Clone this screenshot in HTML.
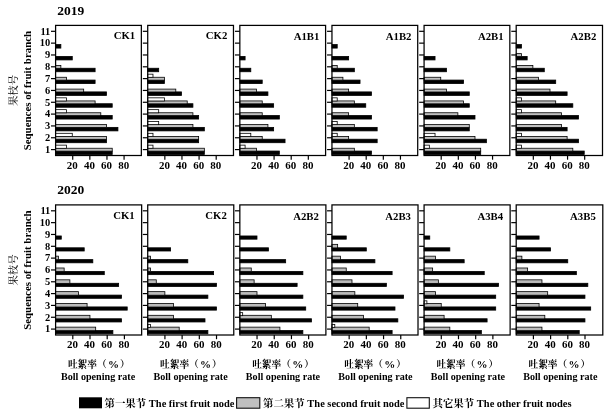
<!DOCTYPE html>
<html lang="zh"><head><meta charset="utf-8"><title>Boll opening rate</title>
<style>html,body{margin:0;padding:0;background:#fff}body{width:606px;height:412px;overflow:hidden}svg{display:block}</style>
</head><body>
<svg width="606" height="412" viewBox="0 0 606 412" font-family="'Liberation Serif','Noto Serif CJK SC',serif" font-weight="bold" fill="#000">
<defs><filter id="soft" x="0" y="0" width="606" height="412" filterUnits="userSpaceOnUse" color-interpolation-filters="sRGB"><feGaussianBlur stdDeviation="0.4"/></filter></defs>
<rect width="606" height="412" fill="#fff"/>
<g filter="url(#soft)">
<rect width="606" height="412" fill="#fff"/>
<rect x="55.60" y="151.04" width="56.62" height="3.50" fill="#000" stroke="#000" stroke-width="0.8"/>
<rect x="55.60" y="148.24" width="56.62" height="2.90" fill="#c0c0c0" stroke="#000" stroke-width="0.8"/>
<rect x="55.60" y="145.14" width="10.96" height="3.15" fill="#fff" stroke="#000" stroke-width="0.8"/>
<rect x="55.60" y="139.21" width="50.91" height="3.50" fill="#000" stroke="#000" stroke-width="0.8"/>
<rect x="55.60" y="136.41" width="50.91" height="2.90" fill="#c0c0c0" stroke="#000" stroke-width="0.8"/>
<rect x="55.60" y="133.31" width="16.67" height="3.15" fill="#fff" stroke="#000" stroke-width="0.8"/>
<rect x="55.60" y="127.38" width="62.32" height="3.50" fill="#000" stroke="#000" stroke-width="0.8"/>
<rect x="55.60" y="124.58" width="50.91" height="2.90" fill="#c0c0c0" stroke="#000" stroke-width="0.8"/>
<rect x="55.60" y="115.55" width="56.62" height="3.50" fill="#000" stroke="#000" stroke-width="0.8"/>
<rect x="55.60" y="112.75" width="45.20" height="2.90" fill="#c0c0c0" stroke="#000" stroke-width="0.8"/>
<rect x="55.60" y="109.65" width="10.96" height="3.15" fill="#fff" stroke="#000" stroke-width="0.8"/>
<rect x="55.60" y="103.73" width="56.62" height="3.50" fill="#000" stroke="#000" stroke-width="0.8"/>
<rect x="55.60" y="100.93" width="39.50" height="2.90" fill="#c0c0c0" stroke="#000" stroke-width="0.8"/>
<rect x="55.60" y="97.83" width="10.96" height="3.15" fill="#fff" stroke="#000" stroke-width="0.8"/>
<rect x="55.60" y="91.90" width="50.91" height="3.50" fill="#000" stroke="#000" stroke-width="0.8"/>
<rect x="55.60" y="89.10" width="28.08" height="2.90" fill="#c0c0c0" stroke="#000" stroke-width="0.8"/>
<rect x="55.60" y="80.07" width="39.50" height="3.50" fill="#000" stroke="#000" stroke-width="0.8"/>
<rect x="55.60" y="77.27" width="10.96" height="2.90" fill="#c0c0c0" stroke="#000" stroke-width="0.8"/>
<rect x="55.60" y="68.25" width="39.50" height="3.50" fill="#000" stroke="#000" stroke-width="0.8"/>
<rect x="55.60" y="65.45" width="5.26" height="2.90" fill="#c0c0c0" stroke="#000" stroke-width="0.8"/>
<rect x="55.60" y="56.42" width="16.67" height="3.50" fill="#000" stroke="#000" stroke-width="0.8"/>
<rect x="55.60" y="44.59" width="5.26" height="3.50" fill="#000" stroke="#000" stroke-width="0.8"/>
<rect x="55.60" y="25.40" width="85.75" height="130.10" fill="none" stroke="#000" stroke-width="1.25"/>
<line x1="51.00" y1="149.59" x2="55.60" y2="149.59" stroke="#000" stroke-width="1.2"/>
<text transform="translate(50.30,152.89) scale(1.08,1)" font-size="9.7" text-anchor="end">1</text>
<line x1="51.00" y1="137.76" x2="55.60" y2="137.76" stroke="#000" stroke-width="1.2"/>
<text transform="translate(50.30,141.06) scale(1.08,1)" font-size="9.7" text-anchor="end">2</text>
<line x1="51.00" y1="125.93" x2="55.60" y2="125.93" stroke="#000" stroke-width="1.2"/>
<text transform="translate(50.30,129.23) scale(1.08,1)" font-size="9.7" text-anchor="end">3</text>
<line x1="51.00" y1="114.10" x2="55.60" y2="114.10" stroke="#000" stroke-width="1.2"/>
<text transform="translate(50.30,117.40) scale(1.08,1)" font-size="9.7" text-anchor="end">4</text>
<line x1="51.00" y1="102.28" x2="55.60" y2="102.28" stroke="#000" stroke-width="1.2"/>
<text transform="translate(50.30,105.58) scale(1.08,1)" font-size="9.7" text-anchor="end">5</text>
<line x1="51.00" y1="90.45" x2="55.60" y2="90.45" stroke="#000" stroke-width="1.2"/>
<text transform="translate(50.30,93.75) scale(1.08,1)" font-size="9.7" text-anchor="end">6</text>
<line x1="51.00" y1="78.62" x2="55.60" y2="78.62" stroke="#000" stroke-width="1.2"/>
<text transform="translate(50.30,81.92) scale(1.08,1)" font-size="9.7" text-anchor="end">7</text>
<line x1="51.00" y1="66.80" x2="55.60" y2="66.80" stroke="#000" stroke-width="1.2"/>
<text transform="translate(50.30,70.10) scale(1.08,1)" font-size="9.7" text-anchor="end">8</text>
<line x1="51.00" y1="54.97" x2="55.60" y2="54.97" stroke="#000" stroke-width="1.2"/>
<text transform="translate(50.30,58.27) scale(1.08,1)" font-size="9.7" text-anchor="end">9</text>
<line x1="51.00" y1="43.14" x2="55.60" y2="43.14" stroke="#000" stroke-width="1.2"/>
<text transform="translate(50.30,46.44) scale(1.08,1)" font-size="9.7" text-anchor="end">10</text>
<line x1="51.00" y1="31.31" x2="55.60" y2="31.31" stroke="#000" stroke-width="1.2"/>
<text transform="translate(50.30,34.61) scale(1.08,1)" font-size="9.7" text-anchor="end">11</text>
<line x1="72.72" y1="155.50" x2="72.72" y2="159.70" stroke="#000" stroke-width="1.2"/>
<text transform="translate(72.32,168.55) scale(1.1,0.95)" font-size="10" text-anchor="middle">20</text>
<line x1="89.84" y1="155.50" x2="89.84" y2="159.70" stroke="#000" stroke-width="1.2"/>
<text transform="translate(89.44,168.55) scale(1.1,0.95)" font-size="10" text-anchor="middle">40</text>
<line x1="106.96" y1="155.50" x2="106.96" y2="159.70" stroke="#000" stroke-width="1.2"/>
<text transform="translate(106.56,168.55) scale(1.1,0.95)" font-size="10" text-anchor="middle">60</text>
<line x1="124.08" y1="155.50" x2="124.08" y2="159.70" stroke="#000" stroke-width="1.2"/>
<text transform="translate(123.68,168.55) scale(1.1,0.95)" font-size="10" text-anchor="middle">80</text>
<text x="135.15" y="38.90" font-size="10.75" text-anchor="end">CK1</text>
<rect x="147.72" y="151.04" width="56.62" height="3.50" fill="#000" stroke="#000" stroke-width="0.8"/>
<rect x="147.72" y="148.24" width="56.62" height="2.90" fill="#c0c0c0" stroke="#000" stroke-width="0.8"/>
<rect x="147.72" y="145.14" width="5.26" height="3.15" fill="#fff" stroke="#000" stroke-width="0.8"/>
<rect x="147.72" y="139.21" width="50.91" height="3.50" fill="#000" stroke="#000" stroke-width="0.8"/>
<rect x="147.72" y="136.41" width="50.91" height="2.90" fill="#c0c0c0" stroke="#000" stroke-width="0.8"/>
<rect x="147.72" y="133.31" width="5.26" height="3.15" fill="#fff" stroke="#000" stroke-width="0.8"/>
<rect x="147.72" y="127.38" width="56.62" height="3.50" fill="#000" stroke="#000" stroke-width="0.8"/>
<rect x="147.72" y="124.58" width="45.20" height="2.90" fill="#c0c0c0" stroke="#000" stroke-width="0.8"/>
<rect x="147.72" y="121.48" width="10.96" height="3.15" fill="#fff" stroke="#000" stroke-width="0.8"/>
<rect x="147.72" y="115.55" width="50.91" height="3.50" fill="#000" stroke="#000" stroke-width="0.8"/>
<rect x="147.72" y="112.75" width="45.20" height="2.90" fill="#c0c0c0" stroke="#000" stroke-width="0.8"/>
<rect x="147.72" y="109.65" width="10.96" height="3.15" fill="#fff" stroke="#000" stroke-width="0.8"/>
<rect x="147.72" y="103.73" width="45.20" height="3.50" fill="#000" stroke="#000" stroke-width="0.8"/>
<rect x="147.72" y="100.93" width="39.50" height="2.90" fill="#c0c0c0" stroke="#000" stroke-width="0.8"/>
<rect x="147.72" y="97.83" width="16.67" height="3.15" fill="#fff" stroke="#000" stroke-width="0.8"/>
<rect x="147.72" y="91.90" width="33.79" height="3.50" fill="#000" stroke="#000" stroke-width="0.8"/>
<rect x="147.72" y="89.10" width="28.08" height="2.90" fill="#c0c0c0" stroke="#000" stroke-width="0.8"/>
<rect x="147.72" y="80.07" width="16.67" height="3.50" fill="#000" stroke="#000" stroke-width="0.8"/>
<rect x="147.72" y="77.27" width="16.67" height="2.90" fill="#c0c0c0" stroke="#000" stroke-width="0.8"/>
<rect x="147.72" y="74.17" width="5.26" height="3.15" fill="#fff" stroke="#000" stroke-width="0.8"/>
<rect x="147.72" y="68.25" width="10.96" height="3.50" fill="#000" stroke="#000" stroke-width="0.8"/>
<rect x="147.72" y="25.40" width="85.75" height="130.10" fill="none" stroke="#000" stroke-width="1.25"/>
<line x1="142.82" y1="149.59" x2="147.72" y2="149.59" stroke="#000" stroke-width="1.2"/>
<line x1="142.82" y1="137.76" x2="147.72" y2="137.76" stroke="#000" stroke-width="1.2"/>
<line x1="142.82" y1="125.93" x2="147.72" y2="125.93" stroke="#000" stroke-width="1.2"/>
<line x1="142.82" y1="114.10" x2="147.72" y2="114.10" stroke="#000" stroke-width="1.2"/>
<line x1="142.82" y1="102.28" x2="147.72" y2="102.28" stroke="#000" stroke-width="1.2"/>
<line x1="142.82" y1="90.45" x2="147.72" y2="90.45" stroke="#000" stroke-width="1.2"/>
<line x1="142.82" y1="78.62" x2="147.72" y2="78.62" stroke="#000" stroke-width="1.2"/>
<line x1="142.82" y1="66.80" x2="147.72" y2="66.80" stroke="#000" stroke-width="1.2"/>
<line x1="142.82" y1="54.97" x2="147.72" y2="54.97" stroke="#000" stroke-width="1.2"/>
<line x1="142.82" y1="43.14" x2="147.72" y2="43.14" stroke="#000" stroke-width="1.2"/>
<line x1="142.82" y1="31.31" x2="147.72" y2="31.31" stroke="#000" stroke-width="1.2"/>
<line x1="164.84" y1="155.50" x2="164.84" y2="159.70" stroke="#000" stroke-width="1.2"/>
<text transform="translate(164.44,168.55) scale(1.1,0.95)" font-size="10" text-anchor="middle">20</text>
<line x1="181.96" y1="155.50" x2="181.96" y2="159.70" stroke="#000" stroke-width="1.2"/>
<text transform="translate(181.56,168.55) scale(1.1,0.95)" font-size="10" text-anchor="middle">40</text>
<line x1="199.08" y1="155.50" x2="199.08" y2="159.70" stroke="#000" stroke-width="1.2"/>
<text transform="translate(198.68,168.55) scale(1.1,0.95)" font-size="10" text-anchor="middle">60</text>
<line x1="216.20" y1="155.50" x2="216.20" y2="159.70" stroke="#000" stroke-width="1.2"/>
<text transform="translate(215.80,168.55) scale(1.1,0.95)" font-size="10" text-anchor="middle">80</text>
<text x="227.27" y="38.90" font-size="10.75" text-anchor="end">CK2</text>
<rect x="239.84" y="151.04" width="39.50" height="3.50" fill="#000" stroke="#000" stroke-width="0.8"/>
<rect x="239.84" y="148.24" width="16.67" height="2.90" fill="#c0c0c0" stroke="#000" stroke-width="0.8"/>
<rect x="239.84" y="145.14" width="5.26" height="3.15" fill="#fff" stroke="#000" stroke-width="0.8"/>
<rect x="239.84" y="139.21" width="45.20" height="3.50" fill="#000" stroke="#000" stroke-width="0.8"/>
<rect x="239.84" y="136.41" width="22.38" height="2.90" fill="#c0c0c0" stroke="#000" stroke-width="0.8"/>
<rect x="239.84" y="133.31" width="10.96" height="3.15" fill="#fff" stroke="#000" stroke-width="0.8"/>
<rect x="239.84" y="127.38" width="33.79" height="3.50" fill="#000" stroke="#000" stroke-width="0.8"/>
<rect x="239.84" y="124.58" width="28.08" height="2.90" fill="#c0c0c0" stroke="#000" stroke-width="0.8"/>
<rect x="239.84" y="115.55" width="39.50" height="3.50" fill="#000" stroke="#000" stroke-width="0.8"/>
<rect x="239.84" y="112.75" width="22.38" height="2.90" fill="#c0c0c0" stroke="#000" stroke-width="0.8"/>
<rect x="239.84" y="103.73" width="33.79" height="3.50" fill="#000" stroke="#000" stroke-width="0.8"/>
<rect x="239.84" y="100.93" width="22.38" height="2.90" fill="#c0c0c0" stroke="#000" stroke-width="0.8"/>
<rect x="239.84" y="91.90" width="28.08" height="3.50" fill="#000" stroke="#000" stroke-width="0.8"/>
<rect x="239.84" y="89.10" width="16.67" height="2.90" fill="#c0c0c0" stroke="#000" stroke-width="0.8"/>
<rect x="239.84" y="80.07" width="22.38" height="3.50" fill="#000" stroke="#000" stroke-width="0.8"/>
<rect x="239.84" y="68.25" width="10.96" height="3.50" fill="#000" stroke="#000" stroke-width="0.8"/>
<rect x="239.84" y="56.42" width="5.26" height="3.50" fill="#000" stroke="#000" stroke-width="0.8"/>
<rect x="239.84" y="25.40" width="85.75" height="130.10" fill="none" stroke="#000" stroke-width="1.25"/>
<line x1="234.94" y1="149.59" x2="239.84" y2="149.59" stroke="#000" stroke-width="1.2"/>
<line x1="234.94" y1="137.76" x2="239.84" y2="137.76" stroke="#000" stroke-width="1.2"/>
<line x1="234.94" y1="125.93" x2="239.84" y2="125.93" stroke="#000" stroke-width="1.2"/>
<line x1="234.94" y1="114.10" x2="239.84" y2="114.10" stroke="#000" stroke-width="1.2"/>
<line x1="234.94" y1="102.28" x2="239.84" y2="102.28" stroke="#000" stroke-width="1.2"/>
<line x1="234.94" y1="90.45" x2="239.84" y2="90.45" stroke="#000" stroke-width="1.2"/>
<line x1="234.94" y1="78.62" x2="239.84" y2="78.62" stroke="#000" stroke-width="1.2"/>
<line x1="234.94" y1="66.80" x2="239.84" y2="66.80" stroke="#000" stroke-width="1.2"/>
<line x1="234.94" y1="54.97" x2="239.84" y2="54.97" stroke="#000" stroke-width="1.2"/>
<line x1="234.94" y1="43.14" x2="239.84" y2="43.14" stroke="#000" stroke-width="1.2"/>
<line x1="234.94" y1="31.31" x2="239.84" y2="31.31" stroke="#000" stroke-width="1.2"/>
<line x1="256.96" y1="155.50" x2="256.96" y2="159.70" stroke="#000" stroke-width="1.2"/>
<text transform="translate(256.56,168.55) scale(1.1,0.95)" font-size="10" text-anchor="middle">20</text>
<line x1="274.08" y1="155.50" x2="274.08" y2="159.70" stroke="#000" stroke-width="1.2"/>
<text transform="translate(273.68,168.55) scale(1.1,0.95)" font-size="10" text-anchor="middle">40</text>
<line x1="291.20" y1="155.50" x2="291.20" y2="159.70" stroke="#000" stroke-width="1.2"/>
<text transform="translate(290.80,168.55) scale(1.1,0.95)" font-size="10" text-anchor="middle">60</text>
<line x1="308.32" y1="155.50" x2="308.32" y2="159.70" stroke="#000" stroke-width="1.2"/>
<text transform="translate(307.92,168.55) scale(1.1,0.95)" font-size="10" text-anchor="middle">80</text>
<text x="319.39" y="39.85" font-size="10.75" text-anchor="end">A1B1</text>
<rect x="331.96" y="151.04" width="39.50" height="3.50" fill="#000" stroke="#000" stroke-width="0.8"/>
<rect x="331.96" y="148.24" width="22.38" height="2.90" fill="#c0c0c0" stroke="#000" stroke-width="0.8"/>
<rect x="331.96" y="139.21" width="45.20" height="3.50" fill="#000" stroke="#000" stroke-width="0.8"/>
<rect x="331.96" y="136.41" width="16.67" height="2.90" fill="#c0c0c0" stroke="#000" stroke-width="0.8"/>
<rect x="331.96" y="133.31" width="5.26" height="3.15" fill="#fff" stroke="#000" stroke-width="0.8"/>
<rect x="331.96" y="127.38" width="45.20" height="3.50" fill="#000" stroke="#000" stroke-width="0.8"/>
<rect x="331.96" y="124.58" width="22.38" height="2.90" fill="#c0c0c0" stroke="#000" stroke-width="0.8"/>
<rect x="331.96" y="121.48" width="5.26" height="3.15" fill="#fff" stroke="#000" stroke-width="0.8"/>
<rect x="331.96" y="115.55" width="39.50" height="3.50" fill="#000" stroke="#000" stroke-width="0.8"/>
<rect x="331.96" y="112.75" width="16.67" height="2.90" fill="#c0c0c0" stroke="#000" stroke-width="0.8"/>
<rect x="331.96" y="103.73" width="33.79" height="3.50" fill="#000" stroke="#000" stroke-width="0.8"/>
<rect x="331.96" y="100.93" width="22.38" height="2.90" fill="#c0c0c0" stroke="#000" stroke-width="0.8"/>
<rect x="331.96" y="97.83" width="5.26" height="3.15" fill="#fff" stroke="#000" stroke-width="0.8"/>
<rect x="331.96" y="91.90" width="39.50" height="3.50" fill="#000" stroke="#000" stroke-width="0.8"/>
<rect x="331.96" y="89.10" width="16.67" height="2.90" fill="#c0c0c0" stroke="#000" stroke-width="0.8"/>
<rect x="331.96" y="80.07" width="28.08" height="3.50" fill="#000" stroke="#000" stroke-width="0.8"/>
<rect x="331.96" y="77.27" width="10.96" height="2.90" fill="#c0c0c0" stroke="#000" stroke-width="0.8"/>
<rect x="331.96" y="68.25" width="22.38" height="3.50" fill="#000" stroke="#000" stroke-width="0.8"/>
<rect x="331.96" y="65.45" width="5.26" height="2.90" fill="#c0c0c0" stroke="#000" stroke-width="0.8"/>
<rect x="331.96" y="56.42" width="16.67" height="3.50" fill="#000" stroke="#000" stroke-width="0.8"/>
<rect x="331.96" y="44.59" width="5.26" height="3.50" fill="#000" stroke="#000" stroke-width="0.8"/>
<rect x="331.96" y="25.40" width="85.75" height="130.10" fill="none" stroke="#000" stroke-width="1.25"/>
<line x1="327.06" y1="149.59" x2="331.96" y2="149.59" stroke="#000" stroke-width="1.2"/>
<line x1="327.06" y1="137.76" x2="331.96" y2="137.76" stroke="#000" stroke-width="1.2"/>
<line x1="327.06" y1="125.93" x2="331.96" y2="125.93" stroke="#000" stroke-width="1.2"/>
<line x1="327.06" y1="114.10" x2="331.96" y2="114.10" stroke="#000" stroke-width="1.2"/>
<line x1="327.06" y1="102.28" x2="331.96" y2="102.28" stroke="#000" stroke-width="1.2"/>
<line x1="327.06" y1="90.45" x2="331.96" y2="90.45" stroke="#000" stroke-width="1.2"/>
<line x1="327.06" y1="78.62" x2="331.96" y2="78.62" stroke="#000" stroke-width="1.2"/>
<line x1="327.06" y1="66.80" x2="331.96" y2="66.80" stroke="#000" stroke-width="1.2"/>
<line x1="327.06" y1="54.97" x2="331.96" y2="54.97" stroke="#000" stroke-width="1.2"/>
<line x1="327.06" y1="43.14" x2="331.96" y2="43.14" stroke="#000" stroke-width="1.2"/>
<line x1="327.06" y1="31.31" x2="331.96" y2="31.31" stroke="#000" stroke-width="1.2"/>
<line x1="349.08" y1="155.50" x2="349.08" y2="159.70" stroke="#000" stroke-width="1.2"/>
<text transform="translate(348.68,168.55) scale(1.1,0.95)" font-size="10" text-anchor="middle">20</text>
<line x1="366.20" y1="155.50" x2="366.20" y2="159.70" stroke="#000" stroke-width="1.2"/>
<text transform="translate(365.80,168.55) scale(1.1,0.95)" font-size="10" text-anchor="middle">40</text>
<line x1="383.32" y1="155.50" x2="383.32" y2="159.70" stroke="#000" stroke-width="1.2"/>
<text transform="translate(382.92,168.55) scale(1.1,0.95)" font-size="10" text-anchor="middle">60</text>
<line x1="400.44" y1="155.50" x2="400.44" y2="159.70" stroke="#000" stroke-width="1.2"/>
<text transform="translate(400.04,168.55) scale(1.1,0.95)" font-size="10" text-anchor="middle">80</text>
<text x="411.51" y="39.85" font-size="10.75" text-anchor="end">A1B2</text>
<rect x="424.08" y="151.04" width="56.62" height="3.50" fill="#000" stroke="#000" stroke-width="0.8"/>
<rect x="424.08" y="148.24" width="56.62" height="2.90" fill="#c0c0c0" stroke="#000" stroke-width="0.8"/>
<rect x="424.08" y="145.14" width="5.26" height="3.15" fill="#fff" stroke="#000" stroke-width="0.8"/>
<rect x="424.08" y="139.21" width="62.32" height="3.50" fill="#000" stroke="#000" stroke-width="0.8"/>
<rect x="424.08" y="136.41" width="50.91" height="2.90" fill="#c0c0c0" stroke="#000" stroke-width="0.8"/>
<rect x="424.08" y="133.31" width="10.96" height="3.15" fill="#fff" stroke="#000" stroke-width="0.8"/>
<rect x="424.08" y="127.38" width="45.20" height="3.50" fill="#000" stroke="#000" stroke-width="0.8"/>
<rect x="424.08" y="124.58" width="45.20" height="2.90" fill="#c0c0c0" stroke="#000" stroke-width="0.8"/>
<rect x="424.08" y="115.55" width="50.91" height="3.50" fill="#000" stroke="#000" stroke-width="0.8"/>
<rect x="424.08" y="112.75" width="33.79" height="2.90" fill="#c0c0c0" stroke="#000" stroke-width="0.8"/>
<rect x="424.08" y="103.73" width="45.20" height="3.50" fill="#000" stroke="#000" stroke-width="0.8"/>
<rect x="424.08" y="100.93" width="39.50" height="2.90" fill="#c0c0c0" stroke="#000" stroke-width="0.8"/>
<rect x="424.08" y="91.90" width="45.20" height="3.50" fill="#000" stroke="#000" stroke-width="0.8"/>
<rect x="424.08" y="89.10" width="22.38" height="2.90" fill="#c0c0c0" stroke="#000" stroke-width="0.8"/>
<rect x="424.08" y="80.07" width="39.50" height="3.50" fill="#000" stroke="#000" stroke-width="0.8"/>
<rect x="424.08" y="77.27" width="16.67" height="2.90" fill="#c0c0c0" stroke="#000" stroke-width="0.8"/>
<rect x="424.08" y="68.25" width="22.38" height="3.50" fill="#000" stroke="#000" stroke-width="0.8"/>
<rect x="424.08" y="56.42" width="10.96" height="3.50" fill="#000" stroke="#000" stroke-width="0.8"/>
<rect x="424.08" y="25.40" width="85.75" height="130.10" fill="none" stroke="#000" stroke-width="1.25"/>
<line x1="419.18" y1="149.59" x2="424.08" y2="149.59" stroke="#000" stroke-width="1.2"/>
<line x1="419.18" y1="137.76" x2="424.08" y2="137.76" stroke="#000" stroke-width="1.2"/>
<line x1="419.18" y1="125.93" x2="424.08" y2="125.93" stroke="#000" stroke-width="1.2"/>
<line x1="419.18" y1="114.10" x2="424.08" y2="114.10" stroke="#000" stroke-width="1.2"/>
<line x1="419.18" y1="102.28" x2="424.08" y2="102.28" stroke="#000" stroke-width="1.2"/>
<line x1="419.18" y1="90.45" x2="424.08" y2="90.45" stroke="#000" stroke-width="1.2"/>
<line x1="419.18" y1="78.62" x2="424.08" y2="78.62" stroke="#000" stroke-width="1.2"/>
<line x1="419.18" y1="66.80" x2="424.08" y2="66.80" stroke="#000" stroke-width="1.2"/>
<line x1="419.18" y1="54.97" x2="424.08" y2="54.97" stroke="#000" stroke-width="1.2"/>
<line x1="419.18" y1="43.14" x2="424.08" y2="43.14" stroke="#000" stroke-width="1.2"/>
<line x1="419.18" y1="31.31" x2="424.08" y2="31.31" stroke="#000" stroke-width="1.2"/>
<line x1="441.20" y1="155.50" x2="441.20" y2="159.70" stroke="#000" stroke-width="1.2"/>
<text transform="translate(440.80,168.55) scale(1.1,0.95)" font-size="10" text-anchor="middle">20</text>
<line x1="458.32" y1="155.50" x2="458.32" y2="159.70" stroke="#000" stroke-width="1.2"/>
<text transform="translate(457.92,168.55) scale(1.1,0.95)" font-size="10" text-anchor="middle">40</text>
<line x1="475.44" y1="155.50" x2="475.44" y2="159.70" stroke="#000" stroke-width="1.2"/>
<text transform="translate(475.04,168.55) scale(1.1,0.95)" font-size="10" text-anchor="middle">60</text>
<line x1="492.56" y1="155.50" x2="492.56" y2="159.70" stroke="#000" stroke-width="1.2"/>
<text transform="translate(492.16,168.55) scale(1.1,0.95)" font-size="10" text-anchor="middle">80</text>
<text x="503.63" y="39.85" font-size="10.75" text-anchor="end">A2B1</text>
<rect x="516.20" y="151.04" width="68.03" height="3.50" fill="#000" stroke="#000" stroke-width="0.8"/>
<rect x="516.20" y="148.24" width="56.62" height="2.90" fill="#c0c0c0" stroke="#000" stroke-width="0.8"/>
<rect x="516.20" y="145.14" width="5.26" height="3.15" fill="#fff" stroke="#000" stroke-width="0.8"/>
<rect x="516.20" y="139.21" width="62.32" height="3.50" fill="#000" stroke="#000" stroke-width="0.8"/>
<rect x="516.20" y="136.41" width="50.91" height="2.90" fill="#c0c0c0" stroke="#000" stroke-width="0.8"/>
<rect x="516.20" y="133.31" width="5.26" height="3.15" fill="#fff" stroke="#000" stroke-width="0.8"/>
<rect x="516.20" y="127.38" width="50.91" height="3.50" fill="#000" stroke="#000" stroke-width="0.8"/>
<rect x="516.20" y="124.58" width="45.20" height="2.90" fill="#c0c0c0" stroke="#000" stroke-width="0.8"/>
<rect x="516.20" y="115.55" width="62.32" height="3.50" fill="#000" stroke="#000" stroke-width="0.8"/>
<rect x="516.20" y="112.75" width="45.20" height="2.90" fill="#c0c0c0" stroke="#000" stroke-width="0.8"/>
<rect x="516.20" y="109.65" width="5.26" height="3.15" fill="#fff" stroke="#000" stroke-width="0.8"/>
<rect x="516.20" y="103.73" width="56.62" height="3.50" fill="#000" stroke="#000" stroke-width="0.8"/>
<rect x="516.20" y="100.93" width="39.50" height="2.90" fill="#c0c0c0" stroke="#000" stroke-width="0.8"/>
<rect x="516.20" y="97.83" width="5.26" height="3.15" fill="#fff" stroke="#000" stroke-width="0.8"/>
<rect x="516.20" y="91.90" width="50.91" height="3.50" fill="#000" stroke="#000" stroke-width="0.8"/>
<rect x="516.20" y="89.10" width="33.79" height="2.90" fill="#c0c0c0" stroke="#000" stroke-width="0.8"/>
<rect x="516.20" y="80.07" width="39.50" height="3.50" fill="#000" stroke="#000" stroke-width="0.8"/>
<rect x="516.20" y="77.27" width="22.38" height="2.90" fill="#c0c0c0" stroke="#000" stroke-width="0.8"/>
<rect x="516.20" y="68.25" width="28.08" height="3.50" fill="#000" stroke="#000" stroke-width="0.8"/>
<rect x="516.20" y="65.45" width="16.67" height="2.90" fill="#c0c0c0" stroke="#000" stroke-width="0.8"/>
<rect x="516.20" y="56.42" width="10.96" height="3.50" fill="#000" stroke="#000" stroke-width="0.8"/>
<rect x="516.20" y="53.62" width="5.26" height="2.90" fill="#c0c0c0" stroke="#000" stroke-width="0.8"/>
<rect x="516.20" y="44.59" width="5.26" height="3.50" fill="#000" stroke="#000" stroke-width="0.8"/>
<rect x="516.20" y="25.40" width="86.30" height="130.10" fill="none" stroke="#000" stroke-width="1.25"/>
<line x1="511.30" y1="149.59" x2="516.20" y2="149.59" stroke="#000" stroke-width="1.2"/>
<line x1="511.30" y1="137.76" x2="516.20" y2="137.76" stroke="#000" stroke-width="1.2"/>
<line x1="511.30" y1="125.93" x2="516.20" y2="125.93" stroke="#000" stroke-width="1.2"/>
<line x1="511.30" y1="114.10" x2="516.20" y2="114.10" stroke="#000" stroke-width="1.2"/>
<line x1="511.30" y1="102.28" x2="516.20" y2="102.28" stroke="#000" stroke-width="1.2"/>
<line x1="511.30" y1="90.45" x2="516.20" y2="90.45" stroke="#000" stroke-width="1.2"/>
<line x1="511.30" y1="78.62" x2="516.20" y2="78.62" stroke="#000" stroke-width="1.2"/>
<line x1="511.30" y1="66.80" x2="516.20" y2="66.80" stroke="#000" stroke-width="1.2"/>
<line x1="511.30" y1="54.97" x2="516.20" y2="54.97" stroke="#000" stroke-width="1.2"/>
<line x1="511.30" y1="43.14" x2="516.20" y2="43.14" stroke="#000" stroke-width="1.2"/>
<line x1="511.30" y1="31.31" x2="516.20" y2="31.31" stroke="#000" stroke-width="1.2"/>
<line x1="533.32" y1="155.50" x2="533.32" y2="159.70" stroke="#000" stroke-width="1.2"/>
<text transform="translate(532.92,168.55) scale(1.1,0.95)" font-size="10" text-anchor="middle">20</text>
<line x1="550.44" y1="155.50" x2="550.44" y2="159.70" stroke="#000" stroke-width="1.2"/>
<text transform="translate(550.04,168.55) scale(1.1,0.95)" font-size="10" text-anchor="middle">40</text>
<line x1="567.56" y1="155.50" x2="567.56" y2="159.70" stroke="#000" stroke-width="1.2"/>
<text transform="translate(567.16,168.55) scale(1.1,0.95)" font-size="10" text-anchor="middle">60</text>
<line x1="584.68" y1="155.50" x2="584.68" y2="159.70" stroke="#000" stroke-width="1.2"/>
<text transform="translate(584.28,168.55) scale(1.1,0.95)" font-size="10" text-anchor="middle">80</text>
<text x="596.30" y="39.85" font-size="10.75" text-anchor="end">A2B2</text>
<text x="57.3" y="15.30" font-size="13.5">2019</text>
<text transform="translate(30.6,90.60) rotate(-90)" font-size="10.9" text-anchor="middle">Sequences of fruit branch</text>
<text transform="translate(17.0,90.45) rotate(-90)" font-size="10.4" text-anchor="middle" font-weight="500" fill="#111">果枝号</text>
<rect x="55.60" y="330.59" width="57.28" height="3.20" fill="#000" stroke="#000" stroke-width="0.8"/>
<rect x="55.60" y="327.14" width="40.08" height="3.55" fill="#bcbcbc" stroke="#000" stroke-width="0.8"/>
<rect x="55.60" y="318.76" width="65.88" height="3.20" fill="#000" stroke="#000" stroke-width="0.8"/>
<rect x="55.60" y="315.31" width="34.35" height="3.55" fill="#bcbcbc" stroke="#000" stroke-width="0.8"/>
<rect x="55.60" y="306.93" width="71.62" height="3.20" fill="#000" stroke="#000" stroke-width="0.8"/>
<rect x="55.60" y="303.48" width="31.48" height="3.55" fill="#bcbcbc" stroke="#000" stroke-width="0.8"/>
<rect x="55.60" y="295.10" width="65.88" height="3.20" fill="#000" stroke="#000" stroke-width="0.8"/>
<rect x="55.60" y="291.65" width="22.88" height="3.55" fill="#bcbcbc" stroke="#000" stroke-width="0.8"/>
<rect x="55.60" y="283.28" width="63.02" height="3.20" fill="#000" stroke="#000" stroke-width="0.8"/>
<rect x="55.60" y="279.83" width="14.28" height="3.55" fill="#bcbcbc" stroke="#000" stroke-width="0.8"/>
<rect x="55.60" y="271.45" width="48.68" height="3.20" fill="#000" stroke="#000" stroke-width="0.8"/>
<rect x="55.60" y="268.00" width="8.55" height="3.55" fill="#bcbcbc" stroke="#000" stroke-width="0.8"/>
<rect x="55.60" y="259.62" width="37.22" height="3.20" fill="#000" stroke="#000" stroke-width="0.8"/>
<rect x="55.60" y="256.17" width="2.82" height="3.55" fill="#bcbcbc" stroke="#000" stroke-width="0.8"/>
<rect x="55.60" y="247.80" width="28.62" height="3.20" fill="#000" stroke="#000" stroke-width="0.8"/>
<rect x="55.60" y="235.97" width="5.68" height="3.20" fill="#000" stroke="#000" stroke-width="0.8"/>
<rect x="55.60" y="204.90" width="86.05" height="130.10" fill="none" stroke="#000" stroke-width="1.25"/>
<line x1="51.00" y1="329.09" x2="55.60" y2="329.09" stroke="#000" stroke-width="1.2"/>
<text transform="translate(50.30,332.39) scale(1.08,1)" font-size="9.7" text-anchor="end">1</text>
<line x1="51.00" y1="317.26" x2="55.60" y2="317.26" stroke="#000" stroke-width="1.2"/>
<text transform="translate(50.30,320.56) scale(1.08,1)" font-size="9.7" text-anchor="end">2</text>
<line x1="51.00" y1="305.43" x2="55.60" y2="305.43" stroke="#000" stroke-width="1.2"/>
<text transform="translate(50.30,308.73) scale(1.08,1)" font-size="9.7" text-anchor="end">3</text>
<line x1="51.00" y1="293.60" x2="55.60" y2="293.60" stroke="#000" stroke-width="1.2"/>
<text transform="translate(50.30,296.90) scale(1.08,1)" font-size="9.7" text-anchor="end">4</text>
<line x1="51.00" y1="281.78" x2="55.60" y2="281.78" stroke="#000" stroke-width="1.2"/>
<text transform="translate(50.30,285.08) scale(1.08,1)" font-size="9.7" text-anchor="end">5</text>
<line x1="51.00" y1="269.95" x2="55.60" y2="269.95" stroke="#000" stroke-width="1.2"/>
<text transform="translate(50.30,273.25) scale(1.08,1)" font-size="9.7" text-anchor="end">6</text>
<line x1="51.00" y1="258.12" x2="55.60" y2="258.12" stroke="#000" stroke-width="1.2"/>
<text transform="translate(50.30,261.42) scale(1.08,1)" font-size="9.7" text-anchor="end">7</text>
<line x1="51.00" y1="246.30" x2="55.60" y2="246.30" stroke="#000" stroke-width="1.2"/>
<text transform="translate(50.30,249.60) scale(1.08,1)" font-size="9.7" text-anchor="end">8</text>
<line x1="51.00" y1="234.47" x2="55.60" y2="234.47" stroke="#000" stroke-width="1.2"/>
<text transform="translate(50.30,237.77) scale(1.08,1)" font-size="9.7" text-anchor="end">9</text>
<line x1="51.00" y1="222.64" x2="55.60" y2="222.64" stroke="#000" stroke-width="1.2"/>
<text transform="translate(50.30,225.94) scale(1.08,1)" font-size="9.7" text-anchor="end">10</text>
<line x1="51.00" y1="210.81" x2="55.60" y2="210.81" stroke="#000" stroke-width="1.2"/>
<text transform="translate(50.30,214.11) scale(1.08,1)" font-size="9.7" text-anchor="end">11</text>
<line x1="72.80" y1="335.00" x2="72.80" y2="339.20" stroke="#000" stroke-width="1.2"/>
<text transform="translate(72.40,348.05) scale(1.1,0.95)" font-size="10" text-anchor="middle">20</text>
<line x1="90.00" y1="335.00" x2="90.00" y2="339.20" stroke="#000" stroke-width="1.2"/>
<text transform="translate(89.60,348.05) scale(1.1,0.95)" font-size="10" text-anchor="middle">40</text>
<line x1="107.20" y1="335.00" x2="107.20" y2="339.20" stroke="#000" stroke-width="1.2"/>
<text transform="translate(106.80,348.05) scale(1.1,0.95)" font-size="10" text-anchor="middle">60</text>
<line x1="124.40" y1="335.00" x2="124.40" y2="339.20" stroke="#000" stroke-width="1.2"/>
<text transform="translate(124.00,348.05) scale(1.1,0.95)" font-size="10" text-anchor="middle">80</text>
<text x="134.65" y="218.70" font-size="10.75" text-anchor="end">CK1</text>
<rect x="147.72" y="330.59" width="60.15" height="3.20" fill="#000" stroke="#000" stroke-width="0.8"/>
<rect x="147.72" y="327.14" width="31.48" height="3.55" fill="#bcbcbc" stroke="#000" stroke-width="0.8"/>
<rect x="147.72" y="324.49" width="2.82" height="3.00" fill="#fff" stroke="#000" stroke-width="0.8"/>
<rect x="147.72" y="318.76" width="57.28" height="3.20" fill="#000" stroke="#000" stroke-width="0.8"/>
<rect x="147.72" y="315.31" width="25.75" height="3.55" fill="#bcbcbc" stroke="#000" stroke-width="0.8"/>
<rect x="147.72" y="306.93" width="68.75" height="3.20" fill="#000" stroke="#000" stroke-width="0.8"/>
<rect x="147.72" y="303.48" width="25.75" height="3.55" fill="#bcbcbc" stroke="#000" stroke-width="0.8"/>
<rect x="147.72" y="295.10" width="60.15" height="3.20" fill="#000" stroke="#000" stroke-width="0.8"/>
<rect x="147.72" y="291.65" width="17.15" height="3.55" fill="#bcbcbc" stroke="#000" stroke-width="0.8"/>
<rect x="147.72" y="283.28" width="68.75" height="3.20" fill="#000" stroke="#000" stroke-width="0.8"/>
<rect x="147.72" y="279.83" width="8.55" height="3.55" fill="#bcbcbc" stroke="#000" stroke-width="0.8"/>
<rect x="147.72" y="271.45" width="65.88" height="3.20" fill="#000" stroke="#000" stroke-width="0.8"/>
<rect x="147.72" y="268.00" width="2.82" height="3.55" fill="#bcbcbc" stroke="#000" stroke-width="0.8"/>
<rect x="147.72" y="259.62" width="40.08" height="3.20" fill="#000" stroke="#000" stroke-width="0.8"/>
<rect x="147.72" y="256.17" width="2.82" height="3.55" fill="#bcbcbc" stroke="#000" stroke-width="0.8"/>
<rect x="147.72" y="247.80" width="22.88" height="3.20" fill="#000" stroke="#000" stroke-width="0.8"/>
<rect x="147.72" y="204.90" width="86.05" height="130.10" fill="none" stroke="#000" stroke-width="1.25"/>
<line x1="142.82" y1="329.09" x2="147.72" y2="329.09" stroke="#000" stroke-width="1.2"/>
<line x1="142.82" y1="317.26" x2="147.72" y2="317.26" stroke="#000" stroke-width="1.2"/>
<line x1="142.82" y1="305.43" x2="147.72" y2="305.43" stroke="#000" stroke-width="1.2"/>
<line x1="142.82" y1="293.60" x2="147.72" y2="293.60" stroke="#000" stroke-width="1.2"/>
<line x1="142.82" y1="281.78" x2="147.72" y2="281.78" stroke="#000" stroke-width="1.2"/>
<line x1="142.82" y1="269.95" x2="147.72" y2="269.95" stroke="#000" stroke-width="1.2"/>
<line x1="142.82" y1="258.12" x2="147.72" y2="258.12" stroke="#000" stroke-width="1.2"/>
<line x1="142.82" y1="246.30" x2="147.72" y2="246.30" stroke="#000" stroke-width="1.2"/>
<line x1="142.82" y1="234.47" x2="147.72" y2="234.47" stroke="#000" stroke-width="1.2"/>
<line x1="142.82" y1="222.64" x2="147.72" y2="222.64" stroke="#000" stroke-width="1.2"/>
<line x1="142.82" y1="210.81" x2="147.72" y2="210.81" stroke="#000" stroke-width="1.2"/>
<line x1="164.92" y1="335.00" x2="164.92" y2="339.20" stroke="#000" stroke-width="1.2"/>
<text transform="translate(164.52,348.05) scale(1.1,0.95)" font-size="10" text-anchor="middle">20</text>
<line x1="182.12" y1="335.00" x2="182.12" y2="339.20" stroke="#000" stroke-width="1.2"/>
<text transform="translate(181.72,348.05) scale(1.1,0.95)" font-size="10" text-anchor="middle">40</text>
<line x1="199.32" y1="335.00" x2="199.32" y2="339.20" stroke="#000" stroke-width="1.2"/>
<text transform="translate(198.92,348.05) scale(1.1,0.95)" font-size="10" text-anchor="middle">60</text>
<line x1="216.52" y1="335.00" x2="216.52" y2="339.20" stroke="#000" stroke-width="1.2"/>
<text transform="translate(216.12,348.05) scale(1.1,0.95)" font-size="10" text-anchor="middle">80</text>
<text x="226.77" y="218.70" font-size="10.75" text-anchor="end">CK2</text>
<rect x="239.84" y="330.59" width="63.02" height="3.20" fill="#000" stroke="#000" stroke-width="0.8"/>
<rect x="239.84" y="327.14" width="40.08" height="3.55" fill="#bcbcbc" stroke="#000" stroke-width="0.8"/>
<rect x="239.84" y="318.76" width="71.62" height="3.20" fill="#000" stroke="#000" stroke-width="0.8"/>
<rect x="239.84" y="315.31" width="31.48" height="3.55" fill="#bcbcbc" stroke="#000" stroke-width="0.8"/>
<rect x="239.84" y="312.66" width="2.82" height="3.00" fill="#fff" stroke="#000" stroke-width="0.8"/>
<rect x="239.84" y="306.93" width="65.88" height="3.20" fill="#000" stroke="#000" stroke-width="0.8"/>
<rect x="239.84" y="303.48" width="25.75" height="3.55" fill="#bcbcbc" stroke="#000" stroke-width="0.8"/>
<rect x="239.84" y="295.10" width="63.02" height="3.20" fill="#000" stroke="#000" stroke-width="0.8"/>
<rect x="239.84" y="291.65" width="17.15" height="3.55" fill="#bcbcbc" stroke="#000" stroke-width="0.8"/>
<rect x="239.84" y="283.28" width="57.28" height="3.20" fill="#000" stroke="#000" stroke-width="0.8"/>
<rect x="239.84" y="279.83" width="14.28" height="3.55" fill="#bcbcbc" stroke="#000" stroke-width="0.8"/>
<rect x="239.84" y="271.45" width="63.02" height="3.20" fill="#000" stroke="#000" stroke-width="0.8"/>
<rect x="239.84" y="268.00" width="11.42" height="3.55" fill="#bcbcbc" stroke="#000" stroke-width="0.8"/>
<rect x="239.84" y="259.62" width="45.82" height="3.20" fill="#000" stroke="#000" stroke-width="0.8"/>
<rect x="239.84" y="247.80" width="28.62" height="3.20" fill="#000" stroke="#000" stroke-width="0.8"/>
<rect x="239.84" y="235.97" width="17.15" height="3.20" fill="#000" stroke="#000" stroke-width="0.8"/>
<rect x="239.84" y="204.90" width="86.05" height="130.10" fill="none" stroke="#000" stroke-width="1.25"/>
<line x1="234.94" y1="329.09" x2="239.84" y2="329.09" stroke="#000" stroke-width="1.2"/>
<line x1="234.94" y1="317.26" x2="239.84" y2="317.26" stroke="#000" stroke-width="1.2"/>
<line x1="234.94" y1="305.43" x2="239.84" y2="305.43" stroke="#000" stroke-width="1.2"/>
<line x1="234.94" y1="293.60" x2="239.84" y2="293.60" stroke="#000" stroke-width="1.2"/>
<line x1="234.94" y1="281.78" x2="239.84" y2="281.78" stroke="#000" stroke-width="1.2"/>
<line x1="234.94" y1="269.95" x2="239.84" y2="269.95" stroke="#000" stroke-width="1.2"/>
<line x1="234.94" y1="258.12" x2="239.84" y2="258.12" stroke="#000" stroke-width="1.2"/>
<line x1="234.94" y1="246.30" x2="239.84" y2="246.30" stroke="#000" stroke-width="1.2"/>
<line x1="234.94" y1="234.47" x2="239.84" y2="234.47" stroke="#000" stroke-width="1.2"/>
<line x1="234.94" y1="222.64" x2="239.84" y2="222.64" stroke="#000" stroke-width="1.2"/>
<line x1="234.94" y1="210.81" x2="239.84" y2="210.81" stroke="#000" stroke-width="1.2"/>
<line x1="257.04" y1="335.00" x2="257.04" y2="339.20" stroke="#000" stroke-width="1.2"/>
<text transform="translate(256.64,348.05) scale(1.1,0.95)" font-size="10" text-anchor="middle">20</text>
<line x1="274.24" y1="335.00" x2="274.24" y2="339.20" stroke="#000" stroke-width="1.2"/>
<text transform="translate(273.84,348.05) scale(1.1,0.95)" font-size="10" text-anchor="middle">40</text>
<line x1="291.44" y1="335.00" x2="291.44" y2="339.20" stroke="#000" stroke-width="1.2"/>
<text transform="translate(291.04,348.05) scale(1.1,0.95)" font-size="10" text-anchor="middle">60</text>
<line x1="308.64" y1="335.00" x2="308.64" y2="339.20" stroke="#000" stroke-width="1.2"/>
<text transform="translate(308.24,348.05) scale(1.1,0.95)" font-size="10" text-anchor="middle">80</text>
<text x="318.89" y="219.65" font-size="10.75" text-anchor="end">A2B2</text>
<rect x="331.96" y="330.59" width="60.15" height="3.20" fill="#000" stroke="#000" stroke-width="0.8"/>
<rect x="331.96" y="327.14" width="37.22" height="3.55" fill="#bcbcbc" stroke="#000" stroke-width="0.8"/>
<rect x="331.96" y="324.49" width="2.82" height="3.00" fill="#fff" stroke="#000" stroke-width="0.8"/>
<rect x="331.96" y="318.76" width="65.88" height="3.20" fill="#000" stroke="#000" stroke-width="0.8"/>
<rect x="331.96" y="315.31" width="31.48" height="3.55" fill="#bcbcbc" stroke="#000" stroke-width="0.8"/>
<rect x="331.96" y="306.93" width="63.02" height="3.20" fill="#000" stroke="#000" stroke-width="0.8"/>
<rect x="331.96" y="303.48" width="25.75" height="3.55" fill="#bcbcbc" stroke="#000" stroke-width="0.8"/>
<rect x="331.96" y="295.10" width="71.62" height="3.20" fill="#000" stroke="#000" stroke-width="0.8"/>
<rect x="331.96" y="291.65" width="22.88" height="3.55" fill="#bcbcbc" stroke="#000" stroke-width="0.8"/>
<rect x="331.96" y="283.28" width="54.42" height="3.20" fill="#000" stroke="#000" stroke-width="0.8"/>
<rect x="331.96" y="279.83" width="20.02" height="3.55" fill="#bcbcbc" stroke="#000" stroke-width="0.8"/>
<rect x="331.96" y="271.45" width="60.15" height="3.20" fill="#000" stroke="#000" stroke-width="0.8"/>
<rect x="331.96" y="268.00" width="14.28" height="3.55" fill="#bcbcbc" stroke="#000" stroke-width="0.8"/>
<rect x="331.96" y="259.62" width="42.95" height="3.20" fill="#000" stroke="#000" stroke-width="0.8"/>
<rect x="331.96" y="256.17" width="8.55" height="3.55" fill="#bcbcbc" stroke="#000" stroke-width="0.8"/>
<rect x="331.96" y="247.80" width="34.35" height="3.20" fill="#000" stroke="#000" stroke-width="0.8"/>
<rect x="331.96" y="244.35" width="5.68" height="3.55" fill="#bcbcbc" stroke="#000" stroke-width="0.8"/>
<rect x="331.96" y="235.97" width="14.28" height="3.20" fill="#000" stroke="#000" stroke-width="0.8"/>
<rect x="331.96" y="204.90" width="86.05" height="130.10" fill="none" stroke="#000" stroke-width="1.25"/>
<line x1="327.06" y1="329.09" x2="331.96" y2="329.09" stroke="#000" stroke-width="1.2"/>
<line x1="327.06" y1="317.26" x2="331.96" y2="317.26" stroke="#000" stroke-width="1.2"/>
<line x1="327.06" y1="305.43" x2="331.96" y2="305.43" stroke="#000" stroke-width="1.2"/>
<line x1="327.06" y1="293.60" x2="331.96" y2="293.60" stroke="#000" stroke-width="1.2"/>
<line x1="327.06" y1="281.78" x2="331.96" y2="281.78" stroke="#000" stroke-width="1.2"/>
<line x1="327.06" y1="269.95" x2="331.96" y2="269.95" stroke="#000" stroke-width="1.2"/>
<line x1="327.06" y1="258.12" x2="331.96" y2="258.12" stroke="#000" stroke-width="1.2"/>
<line x1="327.06" y1="246.30" x2="331.96" y2="246.30" stroke="#000" stroke-width="1.2"/>
<line x1="327.06" y1="234.47" x2="331.96" y2="234.47" stroke="#000" stroke-width="1.2"/>
<line x1="327.06" y1="222.64" x2="331.96" y2="222.64" stroke="#000" stroke-width="1.2"/>
<line x1="327.06" y1="210.81" x2="331.96" y2="210.81" stroke="#000" stroke-width="1.2"/>
<line x1="349.16" y1="335.00" x2="349.16" y2="339.20" stroke="#000" stroke-width="1.2"/>
<text transform="translate(348.76,348.05) scale(1.1,0.95)" font-size="10" text-anchor="middle">20</text>
<line x1="366.36" y1="335.00" x2="366.36" y2="339.20" stroke="#000" stroke-width="1.2"/>
<text transform="translate(365.96,348.05) scale(1.1,0.95)" font-size="10" text-anchor="middle">40</text>
<line x1="383.56" y1="335.00" x2="383.56" y2="339.20" stroke="#000" stroke-width="1.2"/>
<text transform="translate(383.16,348.05) scale(1.1,0.95)" font-size="10" text-anchor="middle">60</text>
<line x1="400.76" y1="335.00" x2="400.76" y2="339.20" stroke="#000" stroke-width="1.2"/>
<text transform="translate(400.36,348.05) scale(1.1,0.95)" font-size="10" text-anchor="middle">80</text>
<text x="411.01" y="219.65" font-size="10.75" text-anchor="end">A2B3</text>
<rect x="424.08" y="330.59" width="57.28" height="3.20" fill="#000" stroke="#000" stroke-width="0.8"/>
<rect x="424.08" y="327.14" width="25.75" height="3.55" fill="#bcbcbc" stroke="#000" stroke-width="0.8"/>
<rect x="424.08" y="318.76" width="63.02" height="3.20" fill="#000" stroke="#000" stroke-width="0.8"/>
<rect x="424.08" y="315.31" width="20.02" height="3.55" fill="#bcbcbc" stroke="#000" stroke-width="0.8"/>
<rect x="424.08" y="306.93" width="71.62" height="3.20" fill="#000" stroke="#000" stroke-width="0.8"/>
<rect x="424.08" y="303.48" width="17.15" height="3.55" fill="#bcbcbc" stroke="#000" stroke-width="0.8"/>
<rect x="424.08" y="300.83" width="2.82" height="3.00" fill="#fff" stroke="#000" stroke-width="0.8"/>
<rect x="424.08" y="295.10" width="71.62" height="3.20" fill="#000" stroke="#000" stroke-width="0.8"/>
<rect x="424.08" y="291.65" width="11.42" height="3.55" fill="#bcbcbc" stroke="#000" stroke-width="0.8"/>
<rect x="424.08" y="283.28" width="74.48" height="3.20" fill="#000" stroke="#000" stroke-width="0.8"/>
<rect x="424.08" y="279.83" width="14.28" height="3.55" fill="#bcbcbc" stroke="#000" stroke-width="0.8"/>
<rect x="424.08" y="271.45" width="60.15" height="3.20" fill="#000" stroke="#000" stroke-width="0.8"/>
<rect x="424.08" y="268.00" width="8.55" height="3.55" fill="#bcbcbc" stroke="#000" stroke-width="0.8"/>
<rect x="424.08" y="259.62" width="40.08" height="3.20" fill="#000" stroke="#000" stroke-width="0.8"/>
<rect x="424.08" y="256.17" width="11.42" height="3.55" fill="#bcbcbc" stroke="#000" stroke-width="0.8"/>
<rect x="424.08" y="247.80" width="25.75" height="3.20" fill="#000" stroke="#000" stroke-width="0.8"/>
<rect x="424.08" y="235.97" width="5.68" height="3.20" fill="#000" stroke="#000" stroke-width="0.8"/>
<rect x="424.08" y="204.90" width="86.05" height="130.10" fill="none" stroke="#000" stroke-width="1.25"/>
<line x1="419.18" y1="329.09" x2="424.08" y2="329.09" stroke="#000" stroke-width="1.2"/>
<line x1="419.18" y1="317.26" x2="424.08" y2="317.26" stroke="#000" stroke-width="1.2"/>
<line x1="419.18" y1="305.43" x2="424.08" y2="305.43" stroke="#000" stroke-width="1.2"/>
<line x1="419.18" y1="293.60" x2="424.08" y2="293.60" stroke="#000" stroke-width="1.2"/>
<line x1="419.18" y1="281.78" x2="424.08" y2="281.78" stroke="#000" stroke-width="1.2"/>
<line x1="419.18" y1="269.95" x2="424.08" y2="269.95" stroke="#000" stroke-width="1.2"/>
<line x1="419.18" y1="258.12" x2="424.08" y2="258.12" stroke="#000" stroke-width="1.2"/>
<line x1="419.18" y1="246.30" x2="424.08" y2="246.30" stroke="#000" stroke-width="1.2"/>
<line x1="419.18" y1="234.47" x2="424.08" y2="234.47" stroke="#000" stroke-width="1.2"/>
<line x1="419.18" y1="222.64" x2="424.08" y2="222.64" stroke="#000" stroke-width="1.2"/>
<line x1="419.18" y1="210.81" x2="424.08" y2="210.81" stroke="#000" stroke-width="1.2"/>
<line x1="441.28" y1="335.00" x2="441.28" y2="339.20" stroke="#000" stroke-width="1.2"/>
<text transform="translate(440.88,348.05) scale(1.1,0.95)" font-size="10" text-anchor="middle">20</text>
<line x1="458.48" y1="335.00" x2="458.48" y2="339.20" stroke="#000" stroke-width="1.2"/>
<text transform="translate(458.08,348.05) scale(1.1,0.95)" font-size="10" text-anchor="middle">40</text>
<line x1="475.68" y1="335.00" x2="475.68" y2="339.20" stroke="#000" stroke-width="1.2"/>
<text transform="translate(475.28,348.05) scale(1.1,0.95)" font-size="10" text-anchor="middle">60</text>
<line x1="492.88" y1="335.00" x2="492.88" y2="339.20" stroke="#000" stroke-width="1.2"/>
<text transform="translate(492.48,348.05) scale(1.1,0.95)" font-size="10" text-anchor="middle">80</text>
<text x="503.13" y="219.65" font-size="10.75" text-anchor="end">A3B4</text>
<rect x="516.20" y="330.59" width="63.02" height="3.20" fill="#000" stroke="#000" stroke-width="0.8"/>
<rect x="516.20" y="327.14" width="25.75" height="3.55" fill="#bcbcbc" stroke="#000" stroke-width="0.8"/>
<rect x="516.20" y="318.76" width="68.75" height="3.20" fill="#000" stroke="#000" stroke-width="0.8"/>
<rect x="516.20" y="315.31" width="28.62" height="3.55" fill="#bcbcbc" stroke="#000" stroke-width="0.8"/>
<rect x="516.20" y="306.93" width="74.48" height="3.20" fill="#000" stroke="#000" stroke-width="0.8"/>
<rect x="516.20" y="303.48" width="22.88" height="3.55" fill="#bcbcbc" stroke="#000" stroke-width="0.8"/>
<rect x="516.20" y="295.10" width="68.75" height="3.20" fill="#000" stroke="#000" stroke-width="0.8"/>
<rect x="516.20" y="291.65" width="31.48" height="3.55" fill="#bcbcbc" stroke="#000" stroke-width="0.8"/>
<rect x="516.20" y="283.28" width="71.62" height="3.20" fill="#000" stroke="#000" stroke-width="0.8"/>
<rect x="516.20" y="279.83" width="25.75" height="3.55" fill="#bcbcbc" stroke="#000" stroke-width="0.8"/>
<rect x="516.20" y="271.45" width="60.15" height="3.20" fill="#000" stroke="#000" stroke-width="0.8"/>
<rect x="516.20" y="268.00" width="11.42" height="3.55" fill="#bcbcbc" stroke="#000" stroke-width="0.8"/>
<rect x="516.20" y="259.62" width="51.55" height="3.20" fill="#000" stroke="#000" stroke-width="0.8"/>
<rect x="516.20" y="256.17" width="5.68" height="3.55" fill="#bcbcbc" stroke="#000" stroke-width="0.8"/>
<rect x="516.20" y="247.80" width="34.35" height="3.20" fill="#000" stroke="#000" stroke-width="0.8"/>
<rect x="516.20" y="235.97" width="22.88" height="3.20" fill="#000" stroke="#000" stroke-width="0.8"/>
<rect x="516.20" y="204.90" width="86.60" height="130.10" fill="none" stroke="#000" stroke-width="1.25"/>
<line x1="511.30" y1="329.09" x2="516.20" y2="329.09" stroke="#000" stroke-width="1.2"/>
<line x1="511.30" y1="317.26" x2="516.20" y2="317.26" stroke="#000" stroke-width="1.2"/>
<line x1="511.30" y1="305.43" x2="516.20" y2="305.43" stroke="#000" stroke-width="1.2"/>
<line x1="511.30" y1="293.60" x2="516.20" y2="293.60" stroke="#000" stroke-width="1.2"/>
<line x1="511.30" y1="281.78" x2="516.20" y2="281.78" stroke="#000" stroke-width="1.2"/>
<line x1="511.30" y1="269.95" x2="516.20" y2="269.95" stroke="#000" stroke-width="1.2"/>
<line x1="511.30" y1="258.12" x2="516.20" y2="258.12" stroke="#000" stroke-width="1.2"/>
<line x1="511.30" y1="246.30" x2="516.20" y2="246.30" stroke="#000" stroke-width="1.2"/>
<line x1="511.30" y1="234.47" x2="516.20" y2="234.47" stroke="#000" stroke-width="1.2"/>
<line x1="511.30" y1="222.64" x2="516.20" y2="222.64" stroke="#000" stroke-width="1.2"/>
<line x1="511.30" y1="210.81" x2="516.20" y2="210.81" stroke="#000" stroke-width="1.2"/>
<line x1="533.40" y1="335.00" x2="533.40" y2="339.20" stroke="#000" stroke-width="1.2"/>
<text transform="translate(533.00,348.05) scale(1.1,0.95)" font-size="10" text-anchor="middle">20</text>
<line x1="550.60" y1="335.00" x2="550.60" y2="339.20" stroke="#000" stroke-width="1.2"/>
<text transform="translate(550.20,348.05) scale(1.1,0.95)" font-size="10" text-anchor="middle">40</text>
<line x1="567.80" y1="335.00" x2="567.80" y2="339.20" stroke="#000" stroke-width="1.2"/>
<text transform="translate(567.40,348.05) scale(1.1,0.95)" font-size="10" text-anchor="middle">60</text>
<line x1="585.00" y1="335.00" x2="585.00" y2="339.20" stroke="#000" stroke-width="1.2"/>
<text transform="translate(584.60,348.05) scale(1.1,0.95)" font-size="10" text-anchor="middle">80</text>
<text x="595.80" y="219.65" font-size="10.75" text-anchor="end">A3B5</text>
<text x="57.3" y="194.20" font-size="13.5">2020</text>
<text transform="translate(30.6,270.10) rotate(-90)" font-size="10.9" text-anchor="middle">Sequences of fruit branch</text>
<text transform="translate(17.0,269.95) rotate(-90)" font-size="10.4" text-anchor="middle" font-weight="500" fill="#111">果枝号</text>
<text x="67.90" y="368.0" font-size="9.7">吐絮率（</text>
<text x="107.90" y="368.2" font-size="11">%</text>
<text x="119.90" y="368.0" font-size="9.7">）</text>
<text x="98.10" y="380.0" font-size="10.15" text-anchor="middle">Boll opening rate</text>
<text x="160.02" y="368.0" font-size="9.7">吐絮率（</text>
<text x="200.02" y="368.2" font-size="11">%</text>
<text x="212.02" y="368.0" font-size="9.7">）</text>
<text x="190.55" y="380.0" font-size="10.15" text-anchor="middle">Boll opening rate</text>
<text x="252.14" y="368.0" font-size="9.7">吐絮率（</text>
<text x="292.14" y="368.2" font-size="11">%</text>
<text x="304.14" y="368.0" font-size="9.7">）</text>
<text x="283.00" y="380.0" font-size="10.15" text-anchor="middle">Boll opening rate</text>
<text x="344.26" y="368.0" font-size="9.7">吐絮率（</text>
<text x="384.26" y="368.2" font-size="11">%</text>
<text x="396.26" y="368.0" font-size="9.7">）</text>
<text x="375.45" y="380.0" font-size="10.15" text-anchor="middle">Boll opening rate</text>
<text x="436.38" y="368.0" font-size="9.7">吐絮率（</text>
<text x="476.38" y="368.2" font-size="11">%</text>
<text x="488.38" y="368.0" font-size="9.7">）</text>
<text x="467.90" y="380.0" font-size="10.15" text-anchor="middle">Boll opening rate</text>
<text x="528.50" y="368.0" font-size="9.7">吐絮率（</text>
<text x="568.50" y="368.2" font-size="11">%</text>
<text x="580.50" y="368.0" font-size="9.7">）</text>
<text x="560.35" y="380.0" font-size="10.15" text-anchor="middle">Boll opening rate</text>
<rect x="79" y="397.3" width="23" height="11" fill="#000"/>
<text x="104.5" y="407" font-size="10.45">第一果节 The first fruit node</text>
<rect x="236.6" y="397.7" width="23.2" height="10.5" fill="#c0c0c0" stroke="#111" stroke-width="1.1"/>
<text x="263" y="407" font-size="10.45">第二果节 The second fruit node</text>
<rect x="406.9" y="397.7" width="22.4" height="10.5" fill="#fff" stroke="#111" stroke-width="1.1"/>
<text x="432.5" y="407" font-size="10.45">其它果节 The other fruit nodes</text>
</g>
</svg>
</body></html>
